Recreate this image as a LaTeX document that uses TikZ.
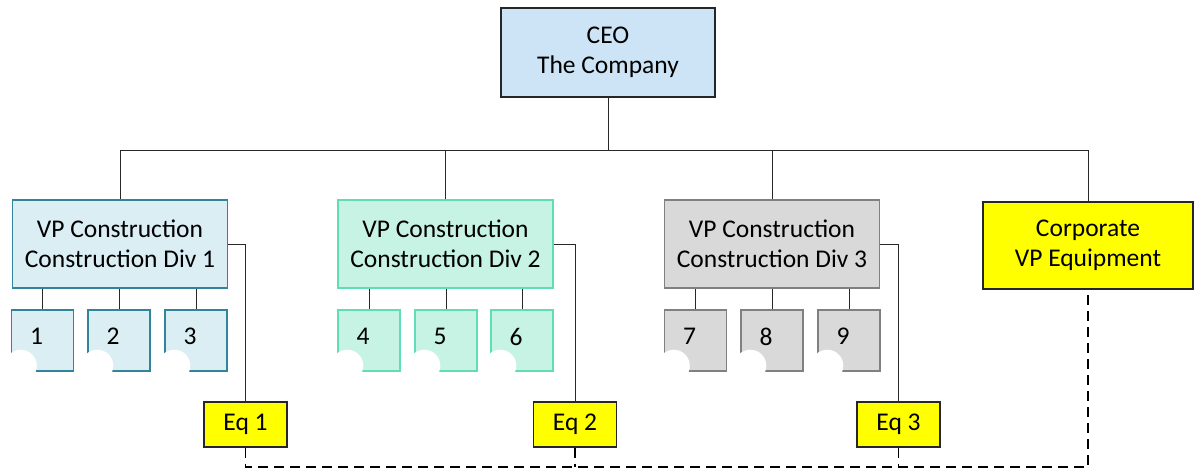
\documentclass[tikz,border=0pt]{standalone}
\usepackage{fontspec}
\setmainfont{Carlito}
\definecolor{ceofill}{RGB}{204,228,245}
\definecolor{divAfill}{RGB}{218,238,243}
\definecolor{divAline}{RGB}{49,132,155}
\definecolor{divBfill}{RGB}{199,243,228}
\definecolor{divBline}{RGB}{96,220,182}
\definecolor{divCfill}{RGB}{217,217,217}
\definecolor{divCline}{RGB}{128,128,128}
\definecolor{eqfill}{RGB}{255,255,0}
\definecolor{wire}{RGB}{40,40,40}
\begin{document}
\begin{tikzpicture}[x=1pt,y=-1pt,
  every node/.style={font=\fontsize{25.5}{30}\selectfont, align=center, inner sep=0pt},
  box/.style={draw, line width=1.4pt, minimum width=#1},
  ceobox/.style={box=214pt, minimum height=89pt, fill=ceofill, draw=black!85},
  vpbox/.style={box=215pt, minimum height=88pt},
  divA/.style={fill=divAfill, draw=divAline},
  divB/.style={fill=divBfill, draw=divBline},
  divC/.style={fill=divCfill, draw=divCline},
  unit/.style={box=62pt, minimum height=61pt,
    label={[xshift=-6pt, yshift=4pt, font=\fontsize{25.5}{30}\selectfont]center:#1}},
  eqbox/.style={box=83pt, minimum height=45pt, fill=eqfill, draw=black!85},
  corpbox/.style={box=210pt, minimum height=87pt, fill=eqfill, draw=black!85},
  wire/.style={draw=wire, line width=1pt},
  dotted link/.style={draw=black, line width=1.6pt, dash pattern=on 10pt off 6pt},
  notch/.style={fill=white, draw=none}
]
\useasboundingbox (0,0) rectangle (1194,472);

% top of the chart
\node[ceobox] (ceo) at (608,52.5) {CEO\\The Company};
\coordinate (bus) at (0,150);

% division heads
\node[vpbox, divA] (vp1) at (120,244) {VP Construction\\Construction Div 1};
\node[vpbox, divB] (vp2) at (445.5,244) {VP Construction\\Construction Div 2};
\node[vpbox, divC] (vp3) at (772,244) {VP Construction\\Construction Div 3};
\node[corpbox] (corp) at (1088,245.5) {Corporate\\VP Equipment};

% units under each division
\node[unit=1, divA] (u1) at (42.5,340.5) {};
\node[unit=2, divA] (u2) at (119,340.5) {};
\node[unit=3, divA] (u3) at (196,340.5) {};
\node[unit=4, divB] (u4) at (369,340.5) {};
\node[unit=5, divB] (u5) at (446,340.5) {};
\node[unit=6, divB] (u6) at (522,340.5) {};
\node[unit=7, divC] (u7) at (695.5,340.5) {};
\node[unit=8, divC] (u8) at (772,340.5) {};
\node[unit=9, divC] (u9) at (849,340.5) {};

% round bite out of each unit's lower-left corner
\foreach \u in {u1,u2,u3,u4,u5,u6,u7,u8,u9}
  \fill[notch] ([xshift=10pt, yshift=6pt]\u.south west) circle[radius=16pt];

% equipment boxes
\node[eqbox] (eq1) at (245.5,424.5) {Eq 1};
\node[eqbox] (eq2) at (575,424.5) {Eq 2};
\node[eqbox] (eq3) at (898.5,424.5) {Eq 3};

% solid reporting lines
\path[wire] (ceo.south) -- (ceo.south |- bus);
\path[wire] (vp1.north) |- (corp.north |- bus) -- (corp.north);
\path[wire] (vp2.north) -- (vp2.north |- bus);
\path[wire] (vp3.north) -- (vp3.north |- bus);
\foreach \u/\v in {u1/vp1,u2/vp1,u3/vp1,u4/vp2,u5/vp2,u6/vp2,u7/vp3,u8/vp3,u9/vp3}
  \path[wire] (\u.north) -- (\u.north |- \v.south);
\path[wire] (vp1.east) -| (eq1.north);
\path[wire] (vp2.east) -| (eq2.north);
\path[wire] (vp3.east) -| (eq3.north);

% dashed equipment link
\coordinate (base) at (0,467);
\path[dotted link] (eq1.south) |- (corp.south |- base) -- (corp.south);
\path[dotted link] (eq2.south) -- (eq2.south |- base);
\path[dotted link] (eq3.south) -- (eq3.south |- base);
\end{tikzpicture}
\end{document}
